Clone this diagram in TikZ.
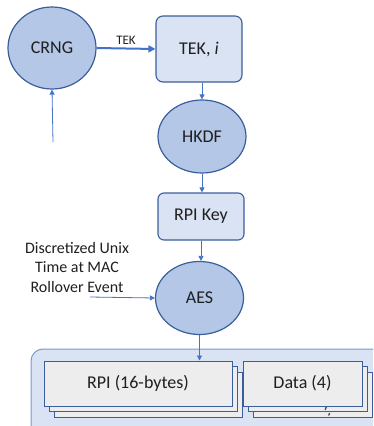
\documentclass[tikz,border=0pt]{standalone}
\usepackage{fontspec}
\setmainfont{Carlito}
\usetikzlibrary{shapes.geometric,arrows.meta}
\definecolor{arrowblue}{HTML}{4472C4}
\definecolor{ellfill}{HTML}{B4C7E7}
\definecolor{ellline}{HTML}{3A5E9C}
\definecolor{boxfill}{HTML}{DAE3F3}
\definecolor{boxline}{HTML}{3A5E9C}
\definecolor{greyfill}{HTML}{EDEDED}
\definecolor{contline}{HTML}{7E99CC}
\definecolor{txt}{HTML}{1F1F1F}
\begin{document}
\begin{tikzpicture}[x=1pt,y=-1pt,
  every node/.style={text=txt},
  ell/.style={ellipse,draw=ellline,fill=ellfill,line width=1.2pt,inner sep=0pt,
    minimum width=88pt,minimum height=73pt,font=\fontsize{18}{20}\selectfont},
  rbox/.style={rectangle,rounded corners=7pt,draw=boxline,fill=boxfill,line width=1.1pt,
    inner sep=0pt,font=\fontsize{18}{20}\selectfont},
  gbox/.style={rectangle,draw=boxline,fill=greyfill,line width=1pt,inner sep=0pt,
    font=\fontsize{18}{20}\selectfont},
  conn/.style={draw=arrowblue,line width=0.8pt,-{Triangle[length=5pt,width=5pt]}},
  thick conn/.style={draw=arrowblue,line width=2pt,-{Triangle[length=7pt,width=7pt]}},
  lbl/.style={font=\fontsize{16}{19.5}\selectfont,align=center,inner sep=0pt}
]
\useasboundingbox (0,0) rectangle (373,426);
\clip (0,0) rectangle (373,426);

% container
\draw[draw=contline,fill=boxfill,line width=1pt,rounded corners=12pt] (31,349) rectangle (400,450);

% nodes
\node[ell,minimum height=82pt] (crng) at (52,48) {CRNG};
\node[rbox,minimum width=86pt,minimum height=66pt] (tek) at (199,49) {TEK, \textit{i}};
\node[ell] (hkdf) at (202,136.5) {HKDF};
\node[rbox,rounded corners=6pt,minimum width=86pt,minimum height=47pt] (rpikey) at (201,216.5) {RPI Key};
\node[ell] (aes) at (199.5,298) {AES};
\node[lbl] (time) at (77,267) {Discretized Unix\\Time at MAC\\Rollover Event};
\coordinate (crngin) at (53,142);
\coordinate (timein) at (90,297);

% stacked fields
\node[gbox,minimum width=188pt,minimum height=45pt] (rpi3) at (148,394.5) {};
\node[gbox,minimum width=188pt,minimum height=45pt] (rpi2) at (143,389) {};
\node[gbox,minimum width=188pt,minimum height=45pt] (rpi) at (138,383.5) {RPI (16-bytes)};
\node[gbox,minimum width=119pt,minimum height=45pt] (data3) at (312.5,394.5) {};
\node[gbox,minimum width=119pt,minimum height=45pt] (data2) at (307.5,389) {};
\node[gbox,minimum width=119pt,minimum height=45pt] (data) at (302.5,383.5) {Data (4)};
\draw[txt!80,line width=1.3pt] (326.3,406.8) -- (325.2,410);
\draw[txt!80,line width=1.3pt] (329.6,413) -- (328.6,415.5);

% connectors
\draw[thick conn] (crng.east) -- node[above=3pt,font=\fontsize{13}{15}\selectfont,inner sep=0pt] {TEK} (tek.west);
\draw[conn] (crngin) -- (crng.south);
\draw[conn] (tek.south -| hkdf.north) -- (hkdf.north);
\draw[conn] (hkdf.south) -- (hkdf.south |- rpikey.north);
\draw[conn] (rpikey.south) -- (rpikey.south |- aes.north);
\draw[conn] (timein) -- (aes.west);
\draw[conn] (aes.south) -- (aes.south |- rpi.north);
\end{tikzpicture}
\end{document}
